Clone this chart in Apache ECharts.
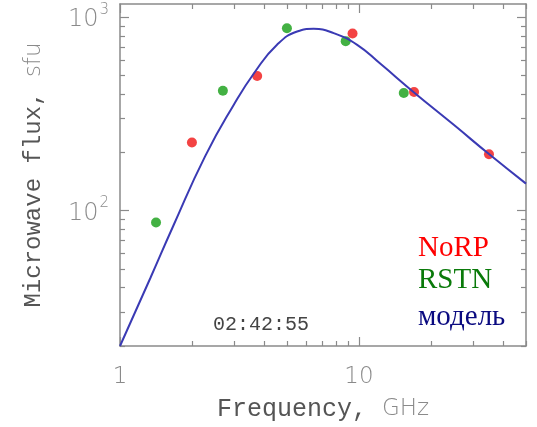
<!DOCTYPE html>
<html>
<head>
<meta charset="utf-8">
<script src="https://cdn.jsdelivr.net/npm/echarts@6/dist/echarts.min.js"></script>
<style>
  html, body { margin: 0; padding: 0; background: #fff; }
  #chart { width: 537px; height: 427px; }
</style>
</head>
<body>
<div id="chart"></div>
<script>
// NoRP (red) and RSTN (green) measurements, GHz / sfu
const norpFreq = [2.0, 3.75, 9.4, 17.0, 35.0];
const norpFlux = [225, 497, 823, 411, 196];
const rstnFreq = [1.415, 2.695, 4.995, 8.8, 15.4];
const rstnFlux = [87, 417, 877, 752, 406];

// model curve
const modelFreq = [1, 1.34, 1.67, 2.27, 2.99, 3.68, 4.54, 5.51, 6.46, 7.84, 9.83, 12.3, 16.9, 25, 35.2, 50];
const modelFlux = [20, 44.9, 83.4, 191, 352, 524, 720, 843, 871, 827, 720, 574, 411, 277, 195, 138];

// ticks
const xMajor = [1, 10];
const xMinor = [2, 3, 4, 5, 6, 7, 8, 9, 20, 30, 40, 50];
const yMajor = [100, 1000];
const yMinor = [20, 30, 40, 50, 60, 70, 80, 90, 200, 300, 400, 500, 600, 700, 800, 900];

const axisGray = '#8a8a8a';
const pairs = (xs, ys) => xs.map((x, i) => [x, ys[i]]);

function xAx(pos, ticks, len, showLabel, showLine) {
    return {
        type: 'log', logBase: 10, min: 1, max: 50, position: pos,
        axisLine: { show: showLine, onZero: false, lineStyle: { color: axisGray, width: 1.5 } },
        axisTick: { inside: true, length: len, customValues: ticks, lineStyle: { color: axisGray, width: 1.2 } },
        axisLabel: {
            show: showLabel, customValues: xMajor, margin: 20,
            color: '#8a8a8a', fontSize: 23, fontFamily: 'DejaVu Sans', fontWeight: 200
        },
        splitLine: { show: false }
    };
}
function yAx(pos, ticks, len, showLabel, showLine) {
    return {
        type: 'log', logBase: 10, min: 20, max: 1170, position: pos,
        axisLine: { show: showLine, onZero: false, lineStyle: { color: axisGray, width: 1.5 } },
        axisTick: { inside: true, length: len, customValues: ticks, lineStyle: { color: axisGray, width: 1.2 } },
        axisLabel: {
            show: showLabel, customValues: yMajor, margin: 11,
            formatter: v => '{a|10}{s|' + Math.round(Math.log10(v)) + '}',
            rich: {
                a: { color: '#8a8a8a', fontSize: 24, fontFamily: 'DejaVu Sans', fontWeight: 200, padding: [6, 0, 0, 0] },
                s: { color: '#8a8a8a', fontSize: 15, fontFamily: 'DejaVu Sans', fontWeight: 200, verticalAlign: 'top', padding: [0, 0, 10, 1] }
            }
        },
        splitLine: { show: false }
    };
}

const chart = echarts.init(document.getElementById('chart'));
const xAxes = [
    xAx('bottom', xMajor, 9, true, true),
    xAx('bottom', xMinor, 5, false, false),
    xAx('top', xMajor, 9, false, true),
    xAx('top', xMinor, 5, false, false)
];
xAxes[0].name = '{a|Frequency, }{b|GHz}';
xAxes[0].nameLocation = 'middle';
xAxes[0].nameGap = 51;
xAxes[0].nameTextStyle = {
    rich: {
        a: { color: '#555', fontSize: 25, fontFamily: 'Liberation Mono' },
        b: { color: '#8a8a8a', fontSize: 23, fontFamily: 'DejaVu Sans', fontWeight: 200 }
    }
};
const yAxes = [
    yAx('left', yMajor, 9, true, true),
    yAx('left', yMinor, 5, false, false),
    yAx('right', yMajor, 9, false, true),
    yAx('right', yMinor, 5, false, false)
];
yAxes[0].name = '{a|Microwave flux, }{b|sfu}';
yAxes[0].nameLocation = 'middle';
yAxes[0].nameGap = 74;
yAxes[0].nameRotate = 90;
yAxes[0].nameTextStyle = {
    rich: {
        a: { color: '#555', fontSize: 24, fontFamily: 'Liberation Mono' },
        b: { color: '#8a8a8a', fontSize: 23, fontFamily: 'DejaVu Sans', fontWeight: 200 }
    }
};

chart.setOption({
    animation: false,
    backgroundColor: '#fff',
    grid: { left: 120, right: 11, top: 4, bottom: 81 },
    xAxis: xAxes,
    yAxis: yAxes,
    series: [
        {
            name: 'RSTN', type: 'scatter', symbolSize: 10,
            itemStyle: { color: '#149e14' },
            data: pairs(rstnFreq, rstnFlux), z: 2
        },
        {
            name: 'NoRP', type: 'scatter', symbolSize: 10,
            itemStyle: { color: '#f01414' },
            data: pairs(norpFreq, norpFlux), z: 3
        },
        {
            name: 'модель', type: 'line', smooth: 0.5, showSymbol: false,
            lineStyle: { color: '#3a3ab4', width: 2 },
            data: pairs(modelFreq, modelFlux), z: 4, clip: true
        }
    ],
    graphic: [
        { type: 'text', left: 213, top: 315, style: { text: '02:42:55', fill: '#444', font: '20px "Liberation Mono"' } },
        { type: 'text', left: 418, top: 234, style: { text: 'NoRP', fill: '#ff0000', font: '29px "Liberation Serif"' } },
        { type: 'text', left: 418, top: 266, style: { text: 'RSTN', fill: '#0a7a0a', font: '29px "Liberation Serif"' } },
        { type: 'text', left: 418, top: 303, style: { text: 'модель', fill: '#0a0a80', font: '29px "Liberation Serif"' } }
    ]
});

window.addEventListener('resize', () => chart.resize());
</script>
</body>
</html>
